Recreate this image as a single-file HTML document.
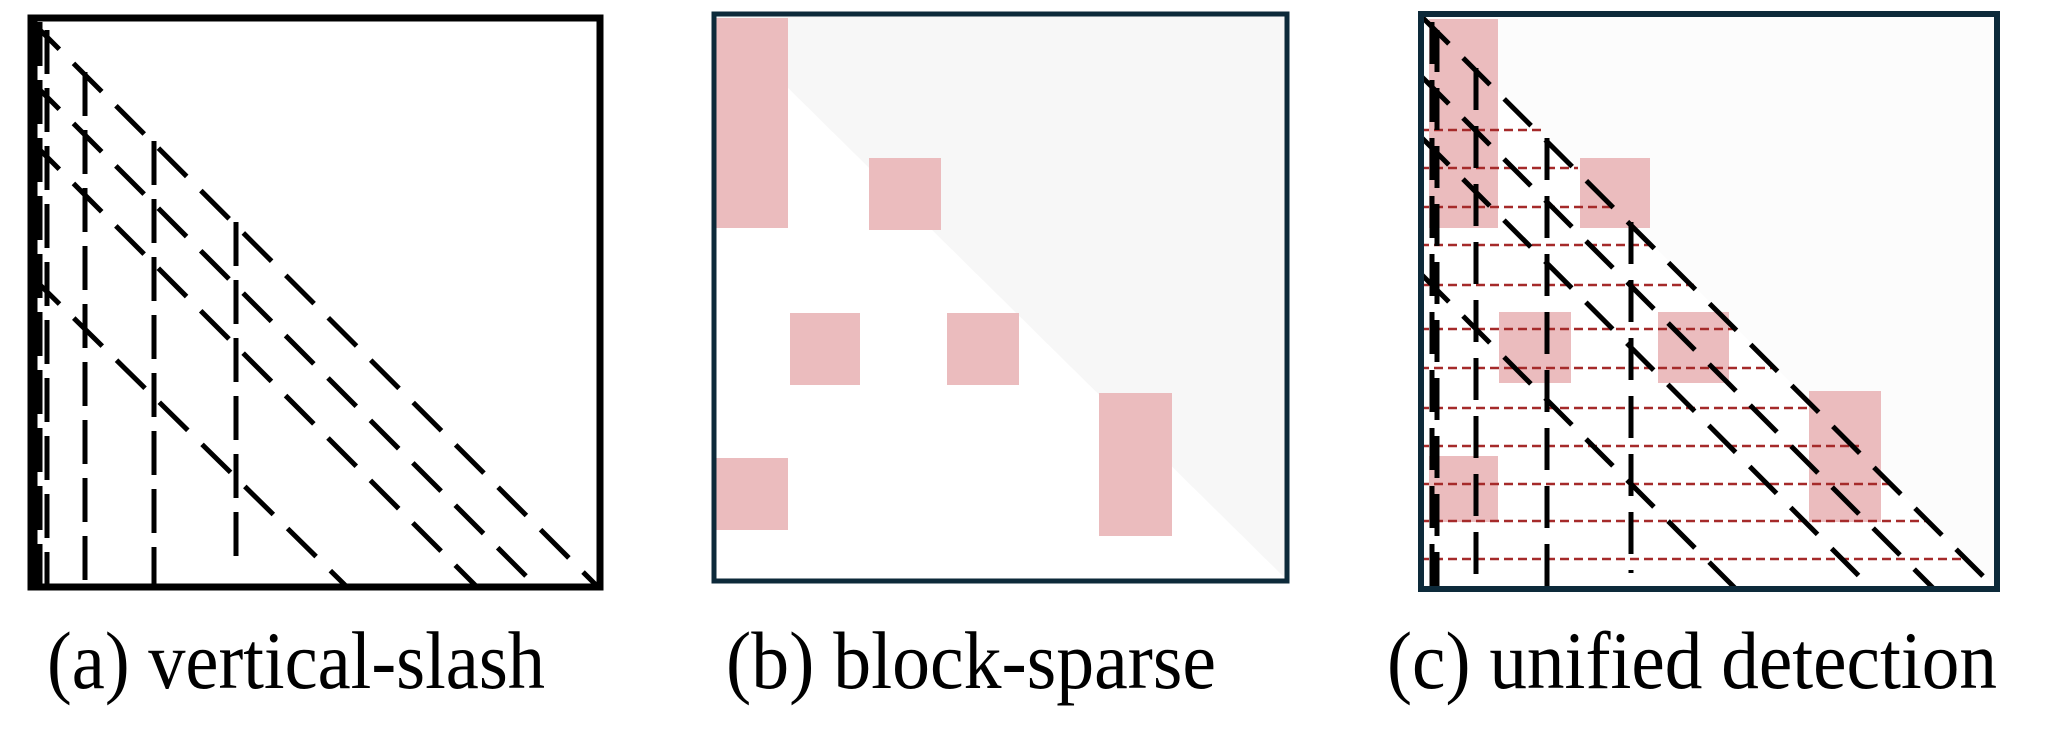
<!DOCTYPE html>
<html><head><meta charset="utf-8"><style>
html,body{margin:0;padding:0;background:#fff;}
svg{display:block;}
.lbl{font-family:"Liberation Serif","DejaVu Serif",serif;font-size:82px;fill:#000;}
</style></head><body>
<svg width="2046" height="750" viewBox="0 0 2046 750" xmlns="http://www.w3.org/2000/svg">
<!-- Panel A -->
<g stroke="#000" fill="none">
  <g stroke-width="5" stroke-dasharray="40 20">
    <line x1="31" y1="21" x2="598" y2="587"/>
    <line x1="31" y1="81" x2="537" y2="587"/>
    <line x1="31" y1="141" x2="477" y2="587"/>
    <line x1="31" y1="276" x2="347" y2="587"/>
  </g>
  <g stroke-width="5" stroke-dasharray="44 14">
    <line x1="40" y1="22" x2="40" y2="587"/>
    <line x1="47" y1="30" x2="47" y2="587"/>
    <line x1="85" y1="72" x2="85" y2="587"/>
    <line x1="154" y1="141" x2="154" y2="587"/>
    <line x1="236" y1="222" x2="236" y2="567"/>
  </g>
  <rect x="31" y="18" width="569" height="569" stroke-width="7"/>
  <line x1="33" y1="15" x2="33" y2="590" stroke-width="9"/>
</g>
<text class="lbl" x="296" y="688" text-anchor="middle" textLength="498" lengthAdjust="spacingAndGlyphs">(a) vertical-slash</text>

<!-- Panel B -->
<polygon points="712,13 1289,13 1289,582" fill="#f7f7f7"/>
<g fill="#ebbcbe">
  <rect x="715" y="18" width="73" height="210"/>
  <rect x="869" y="158" width="72" height="72"/>
  <rect x="790" y="313" width="70" height="72"/>
  <rect x="947" y="313" width="72" height="72"/>
  <rect x="1099" y="393" width="73" height="143"/>
  <rect x="715" y="458" width="73" height="72"/>
</g>
<rect x="714" y="14" width="573" height="567" fill="none" stroke="#0d2a3a" stroke-width="5"/>
<text class="lbl" x="971" y="688" text-anchor="middle" textLength="490" lengthAdjust="spacingAndGlyphs">(b) block-sparse</text>

<!-- Panel C -->
<polygon points="1420,13 1999,13 1999,590" fill="#fcfcfc"/>
<g fill="#ebbcbe">
  <rect x="1429" y="19" width="69" height="209"/>
  <rect x="1580" y="158" width="70" height="70"/>
  <rect x="1499" y="312" width="72" height="71"/>
  <rect x="1658" y="312" width="71" height="71"/>
  <rect x="1809" y="391" width="72" height="131"/>
  <rect x="1429" y="456" width="69" height="66"/>
</g>
<g stroke="#a52a2a" stroke-width="2.5" stroke-dasharray="9 5">
  <line x1="1420" y1="130" x2="1541" y2="130"/>
  <line x1="1420" y1="168" x2="1578" y2="168"/>
  <line x1="1420" y1="207" x2="1612" y2="207"/>
  <line x1="1420" y1="245" x2="1652" y2="245"/>
  <line x1="1420" y1="285" x2="1694" y2="285"/>
  <line x1="1420" y1="329" x2="1739" y2="329"/>
  <line x1="1420" y1="368" x2="1772" y2="368"/>
  <line x1="1420" y1="408" x2="1809" y2="408"/>
  <line x1="1420" y1="446" x2="1859" y2="446"/>
  <line x1="1420" y1="484" x2="1892" y2="484"/>
  <line x1="1420" y1="521" x2="1929" y2="521"/>
  <line x1="1420" y1="559" x2="1967" y2="559"/>
</g>
<g stroke="#000" fill="none">
  <g stroke-width="5" stroke-dasharray="38 20">
    <line x1="1422" y1="17" x2="1997" y2="590"/>
    <line x1="1422" y1="77" x2="1935" y2="590"/>
    <line x1="1422" y1="138" x2="1873" y2="590"/>
    <line x1="1422" y1="275" x2="1737" y2="590"/>
  </g>
  <g stroke-width="5" stroke-dasharray="42 16">
    <line x1="1432" y1="22" x2="1432" y2="590"/>
    <line x1="1437" y1="30" x2="1437" y2="590"/>
    <line x1="1476" y1="68" x2="1476" y2="590"/>
    <line x1="1547" y1="138" x2="1547" y2="590"/>
    <line x1="1631" y1="222" x2="1631" y2="573"/>
  </g>
</g>
<rect x="1421" y="14" width="576" height="575" fill="none" stroke="#0d2a3a" stroke-width="6"/>
<text class="lbl" x="1692" y="688" text-anchor="middle" textLength="610" lengthAdjust="spacingAndGlyphs">(c) unified detection</text>
</svg>
</body></html>
